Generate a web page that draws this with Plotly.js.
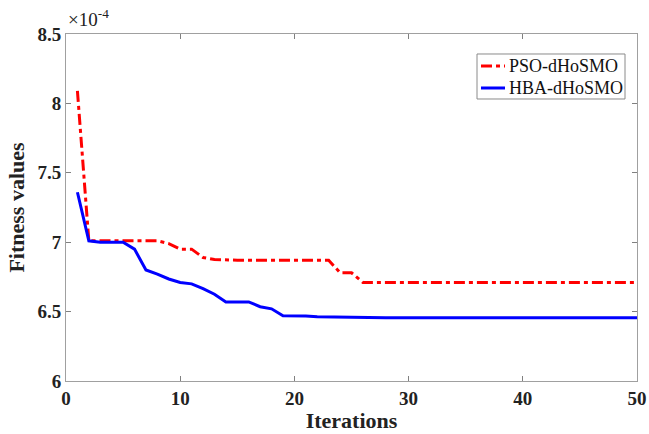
<!DOCTYPE html>
<html>
<head>
<meta charset="utf-8">
<script src="https://cdn.plot.ly/plotly-3.0.1.min.js"></script>
<style>html,body{margin:0;padding:0;background:#fff;}#chart{width:649px;height:434px;}</style>
</head>
<body>
<div id="chart"></div>
<script>
// Values are in units of 1e-4
const iterations = Array.from({length: 50}, (_, i) => i + 1);
const psoValues = [8.09, 7.01, 7.01, 7.01, 7.01, 7.01, 7.01, 7.01, 6.99, 6.95,
  6.95, 6.89, 6.875, 6.87, 6.87, 6.87, 6.87, 6.87, 6.87, 6.87,
  6.87, 6.87, 6.87, 6.78, 6.78, 6.71, 6.71, 6.71, 6.71, 6.71,
  6.71, 6.71, 6.71, 6.71, 6.71, 6.71, 6.71, 6.71, 6.71, 6.71,
  6.71, 6.71, 6.71, 6.71, 6.71, 6.71, 6.71, 6.71, 6.71, 6.71];
const hbaValues = [7.36, 7.01, 7.0, 7.0, 7.0, 6.95, 6.80, 6.77, 6.735, 6.71,
  6.70, 6.665, 6.625, 6.57, 6.57, 6.57, 6.535, 6.52, 6.47, 6.47,
  6.468, 6.462, 6.46, 6.458, 6.457, 6.455, 6.455, 6.455, 6.455, 6.455,
  6.455, 6.455, 6.455, 6.455, 6.455, 6.455, 6.455, 6.455, 6.455, 6.455,
  6.455, 6.455, 6.455, 6.455, 6.455, 6.455, 6.455, 6.455, 6.455, 6.455];
const seriesNames = ['PSO-dHoSMO', 'HBA-dHoSMO'];
const seriesColors = ['#ff0000', '#0000ff'];
const seriesDash = ['11px,4px,4px,4px', 'solid'];
const xTicks = [0, 10, 20, 30, 40, 50];
const yTicks = [6, 6.5, 7, 7.5, 8, 8.5];

const traces = [psoValues, hbaValues].map((vals, i) => ({
  x: iterations, y: vals, name: seriesNames[i], mode: 'lines',
  line: {color: seriesColors[i], width: 3, dash: seriesDash[i]}
}));

const axisCommon = {
  showgrid: false, zeroline: false, showline: true, mirror: 'ticks',
  linecolor: '#a0a0a0', linewidth: 1, ticks: 'inside', ticklen: 5,
  tickcolor: '#808080', tickwidth: 1, automargin: false,
  tickfont: {family: 'Liberation Serif', size: 19, color: '#222'}
};

// Compact legend box (paper coordinates)
const legBox = {x0: 0.7198, x1: 0.9790, y0: 0.8127, y1: 0.9424};
const legRows = [0.9078, 0.8444];
const shapes = [{
  type: 'rect', xref: 'paper', yref: 'paper',
  x0: legBox.x0, x1: legBox.x1, y0: legBox.y0, y1: legBox.y1,
  line: {color: '#8a8a8a', width: 1}, fillcolor: '#ffffff'
}];
const annotations = [{
  xref: 'paper', yref: 'paper', x: 0, y: 1, xanchor: 'left', yanchor: 'bottom',
  yshift: 2, showarrow: false,
  text: '×10<sup>-4</sup>',
  font: {family: 'Liberation Serif', size: 19, color: '#222'}
}];
seriesNames.forEach((name, i) => {
  shapes.push({
    type: 'line', xref: 'paper', yref: 'paper',
    x0: 0.7268, x1: 0.7688, y0: legRows[i], y1: legRows[i],
    line: {color: seriesColors[i], width: 3, dash: seriesDash[i]}
  });
  annotations.push({
    xref: 'paper', yref: 'paper', x: 0.7723, y: legRows[i],
    xanchor: 'left', yanchor: 'middle', showarrow: false, text: name,
    font: {family: 'Liberation Serif', size: 18, color: '#111'}
  });
});

const layout = {
  width: 649, height: 434,
  margin: {l: 66, r: 12, t: 34, b: 53},
  paper_bgcolor: '#fff', plot_bgcolor: '#fff',
  showlegend: false,
  xaxis: Object.assign({}, axisCommon, {
    range: [0, 50], tickvals: xTicks, ticktext: xTicks.map(v => '<b>' + v + '</b>'),
    title: {text: '<b>Iterations</b>', standoff: 4,
      font: {family: 'Liberation Serif', size: 22, color: '#222'}}
  }),
  yaxis: Object.assign({}, axisCommon, {
    range: [6, 8.5], tickvals: yTicks, ticktext: yTicks.map(v => '<b>' + v + '</b>'),
    title: {text: '<b>Fitness values</b>', standoff: 6,
      font: {family: 'Liberation Serif', size: 22, color: '#222'}}
  }),
  font: {family: 'Liberation Serif'},
  shapes: shapes,
  annotations: annotations
};

Plotly.newPlot('chart', traces, layout, {displayModeBar: false, staticPlot: true});
</script>
</body>
</html>
